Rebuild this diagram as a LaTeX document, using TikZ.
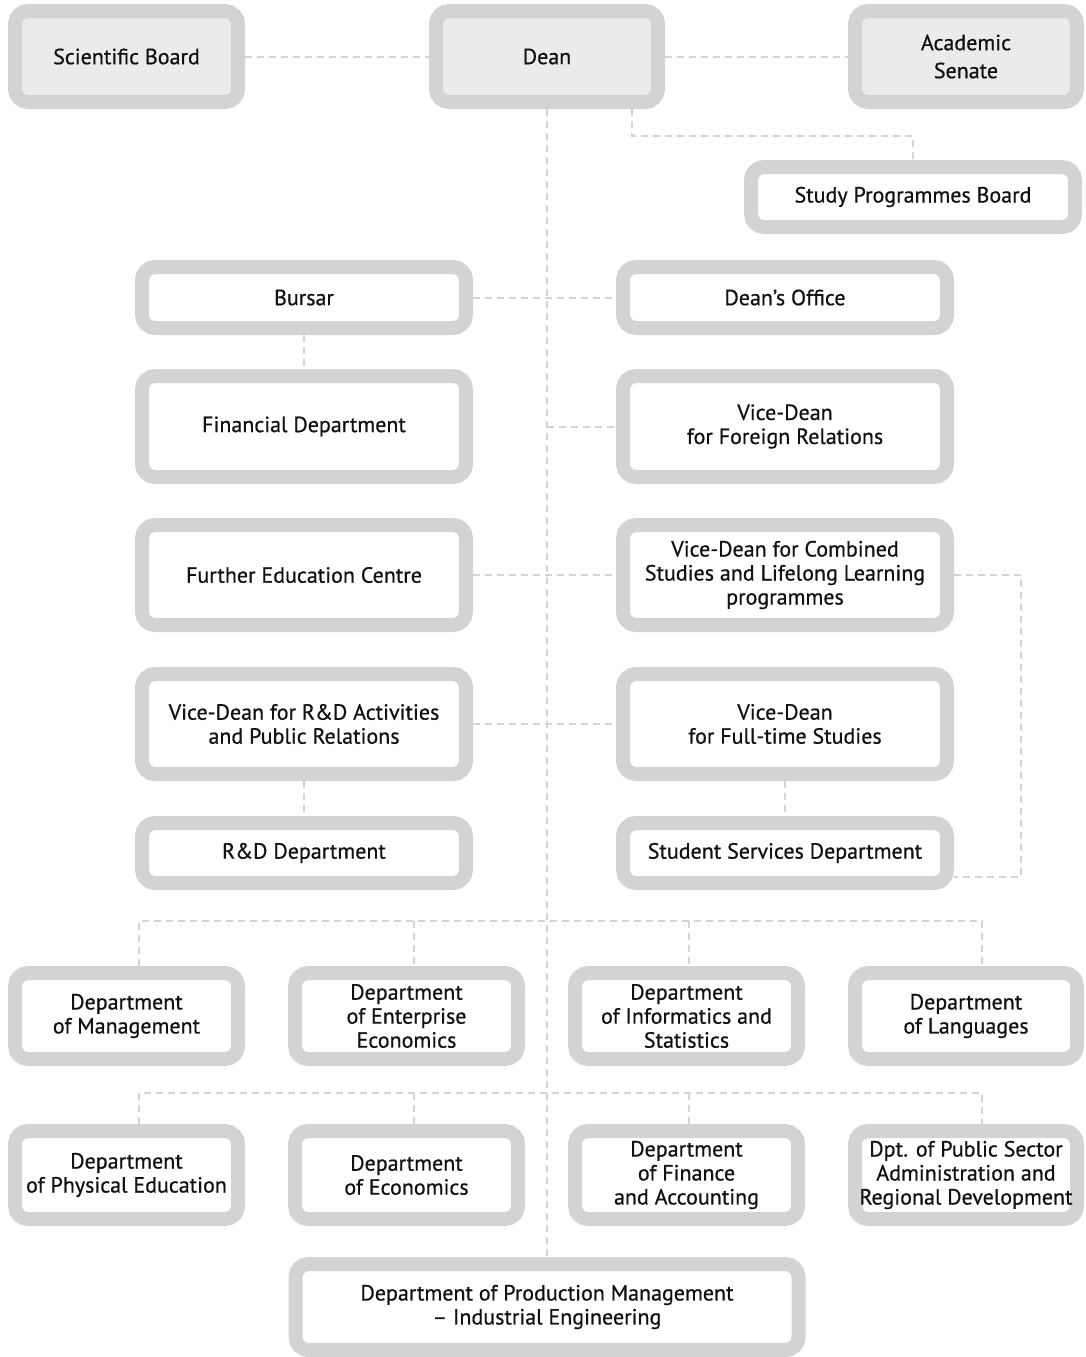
\documentclass[tikz,border=0pt]{standalone}
\usepackage{fontspec}
\setmainfont{PT Sans}[UprightFeatures={FakeBold=0.6}]
\definecolor{bordergray}{HTML}{D3D3D3}
\definecolor{linegray}{HTML}{D4D4D4}
\definecolor{topfill}{HTML}{EBEBEB}
\definecolor{txt}{HTML}{111111}
\begin{document}
\begin{tikzpicture}[x=1pt,y=-1pt,
  box/.style={draw=bordergray, line width=14pt, rounded corners=13pt, fill=white,
    align=center, text=txt, font=\fontsize{22}{24}\selectfont, inner sep=0pt},
  topbox/.style={box, fill=topfill},
  conn/.style={draw=linegray, line width=2pt, dash pattern=on 7pt off 5pt}]
\useasboundingbox (0,0) rectangle (1085,1357);
% top row
\node[topbox, minimum width=223pt, minimum height=91pt] (sb) at (126.5,56.5) {Scientific Board};
\node[topbox, minimum width=222pt, minimum height=91pt] (dean) at (547,56.5) {Dean};
\node[topbox, minimum width=222pt, minimum height=91pt] (as) at (966,56.5) {Academic\\[4pt]Senate};
\node[box, minimum width=324pt, minimum height=60pt] (spb) at (913,197) {Study Programmes Board};
% middle
\node[box, minimum width=324pt, minimum height=61pt] (bursar) at (304,297.5) {Bursar};
\node[box, minimum width=324pt, minimum height=61pt] (office) at (785,297.5) {Dean’s Office};
\node[box, minimum width=324pt, minimum height=101pt] (fin) at (304,426.5) {Financial Department};
\node[box, minimum width=324pt, minimum height=101pt] (vdfr) at (785,426.5) {Vice-Dean\\for Foreign Relations};
\node[box, minimum width=324pt, minimum height=100pt] (fec) at (304,575) {Further Education Centre};
\node[box, minimum width=324pt, minimum height=100pt] (vdcs) at (785,575) {Vice-Dean for Combined\\Studies and Lifelong Learning\\programmes};
\node[box, minimum width=324pt, minimum height=100pt] (vdrd) at (304,724) {Vice-Dean for R\&D Activities\\and Public Relations};
\node[box, minimum width=324pt, minimum height=100pt] (vdft) at (785,724) {Vice-Dean\\for Full-time Studies};
\node[box, minimum width=324pt, minimum height=60pt] (rdd) at (304,853) {R\&D Department};
\node[box, minimum width=324pt, minimum height=60pt] (ssd) at (785,853) {Student Services Department};
% departments row 1
\node[box, minimum width=223pt, minimum height=86pt] (d11) at (126.5,1016) {Department\\of Management};
\node[box, minimum width=223pt, minimum height=86pt] (d12) at (406.5,1016) {Department\\of Enterprise\\Economics};
\node[box, minimum width=223pt, minimum height=86pt] (d13) at (686.5,1016) {Department\\of Informatics and\\Statistics};
\node[box, minimum width=222pt, minimum height=86pt] (d14) at (966,1016) {Department\\of Languages};
% departments row 2
\node[box, minimum width=223pt, minimum height=88pt] (d21) at (126.5,1175) {Department\\of Physical Education};
\node[box, minimum width=223pt, minimum height=88pt] (d22) at (406.5,1175) {Department\\of Economics};
\node[box, minimum width=223pt, minimum height=88pt] (d23) at (686.5,1175) {Department\\of Finance\\and Accounting};
\node[box, minimum width=222pt, minimum height=88pt] (d24) at (966,1175) {Dpt. of Public Sector\\Administration and\\Regional Development};
\node[box, minimum width=503pt, minimum height=86pt] (prod) at (547,1307) {Department of Production Management\\– Industrial Engineering};
% coordinates
\coordinate (spbturn) at (632,136);
\coordinate (cr) at (1021,877);
\coordinate (bus1) at (547,921);
\coordinate (bus2) at (547,1093);
% connectors
\draw[conn] (sb.east) -- (dean.west);
\draw[conn] (dean.east) -- (as.west);
\draw[conn] (dean.south) -- (prod.north);
\draw[conn] (dean.south -| spbturn) -- (spbturn) -| (spb.north);
\draw[conn] (bursar.east) -- (office.west);
\draw[conn] (bursar.south) -- (fin.north);
\draw[conn] (vdfr.west -| dean.south) -- (vdfr.west);
\draw[conn] (fec.east) -- (vdcs.west);
\draw[conn] (vdrd.east) -- (vdft.west);
\draw[conn] (vdrd.south) -- (rdd.north);
\draw[conn] (vdft.south) -- (ssd.north);
\draw[conn] (vdcs.east) -| (cr) -- (cr -| ssd.east);
% bus row 1
\draw[conn] ([xshift=12pt]d11.north) -- ([xshift=12pt]d11.north |- bus1) -- ([xshift=16pt]d14.north |- bus1) -- ([xshift=16pt]d14.north);
\draw[conn] ([xshift=7pt]d12.north |- bus1) -- ([xshift=7pt]d12.north);
\draw[conn] ([xshift=2pt]d13.north |- bus1) -- ([xshift=2pt]d13.north);
% bus row 2
\draw[conn] ([xshift=12pt]d21.north) -- ([xshift=12pt]d21.north |- bus2) -- ([xshift=16pt]d24.north |- bus2) -- ([xshift=16pt]d24.north);
\draw[conn] ([xshift=7pt]d22.north |- bus2) -- ([xshift=7pt]d22.north);
\draw[conn] ([xshift=2pt]d23.north |- bus2) -- ([xshift=2pt]d23.north);
\end{tikzpicture}
\end{document}
